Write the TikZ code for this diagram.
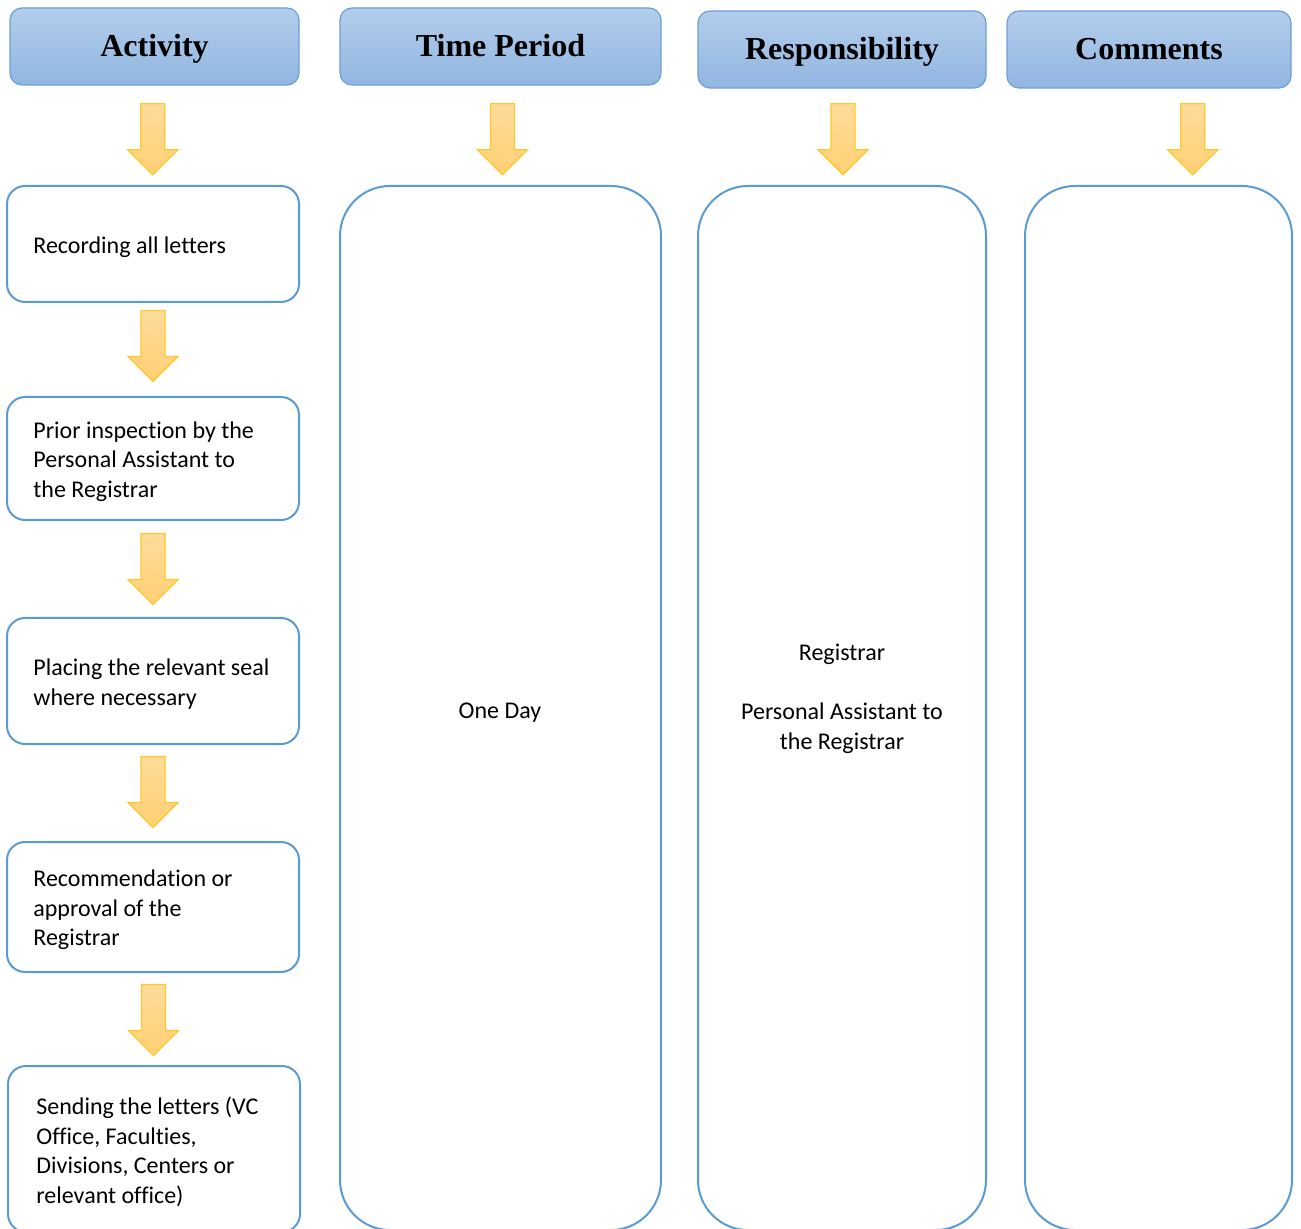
\documentclass[tikz,border=0pt]{standalone}
\usepackage{fontspec}
\setmainfont{Carlito}[Ligatures=NoCommon]
\newfontfamily\headfont{Liberation Serif}
\usetikzlibrary{calc}

\definecolor{headtop}{HTML}{B3CDEB}
\definecolor{headbot}{HTML}{91B6E1}
\definecolor{headline}{HTML}{6D9FD7}
\definecolor{boxline}{HTML}{5B9BD5}
\definecolor{arrtop}{HTML}{FFDC9B}
\definecolor{arrbot}{HTML}{FFD074}
\definecolor{arrline}{HTML}{FFC729}

\tikzset{
  header/.style = {draw=headline, line width=0.6pt, rounded corners=6pt,
    top color=headtop, bottom color=headbot, minimum height=38.5pt,
    text height=13.5pt, text depth=3pt,
    font=\headfont\fontsize{16}{19}\selectfont\bfseries},
  actbox/.style = {draw=boxline, line width=1pt, rounded corners=9pt, minimum width=146pt},
  column/.style = {draw=boxline, line width=1pt, rounded corners=25pt, minimum height=522pt},
  bodytext/.style = {inner sep=0pt, yshift=-1.5pt, font=\fontsize{12}{14.75}\selectfont},
  pics/downarrow/.style = {code={
    \draw[arrline, line width=0.6pt, top color=arrtop, bottom color=arrbot]
      (-12,-35.5) -- (12,-35.5) -- (12,10.5) -- (25,10.5) -- (0,35.5)
      -- (-25,10.5) -- (-12,10.5) -- cycle;
  }}
}

\begin{document}
\begin{tikzpicture}[x=0.5pt, y=-0.5pt]
  \clip (0,0) rectangle (1301,1229);

  % headers
  \node[header, minimum width=144.5pt] (h1) at (154.5,46.5) {Activity};
  \node[header, minimum width=160.5pt] (h2) at (500.5,46.5) {Time Period};
  \node[header, minimum width=144pt] (h3) at (842,49.5) {Responsibility};
  \node[header, minimum width=142pt] (h4) at (1149,49.5) {Comments};

  % activity steps
  \node[actbox, minimum height=58pt] (a1) at (153,244) {};
  \node[actbox, minimum height=61.5pt] (a2) at (153,458.5) {};
  \node[actbox, minimum height=63pt] (a3) at (153,681) {};
  \node[actbox, minimum height=65pt] (a4) at (153,907) {};
  \node[actbox, minimum height=83pt] (a5) at (154,1149) {};

  \node[bodytext, anchor=west, align=left] (a1t) at ([xshift=13.5pt]a1.west) {Recording all letters};
  \node[bodytext, anchor=west, align=left] (a2t) at ([xshift=13.5pt]a2.west) {Prior inspection by the\\Personal Assistant to\\the Registrar};
  \node[bodytext, anchor=west, align=left] (a3t) at ([xshift=13.5pt]a3.west) {Placing the relevant seal\\where necessary};
  \node[bodytext, anchor=west, align=left] (a4t) at ([xshift=13.5pt]a4.west) {Recommendation or\\approval of the\\Registrar};
  \node[bodytext, anchor=west, align=left] (a5t) at ([xshift=14.5pt]a5.west) {Sending the letters (VC\\Office, Faculties,\\Divisions, Centers or\\relevant office)};

  % tall columns
  \node[column, minimum width=160.5pt] (tp) at (500.5,708) {};
  \node[column, minimum width=144pt] (rs) at (842,708) {};
  \node[column, minimum width=133.5pt] (cm) at (1158.5,708) {};

  \node[bodytext] (tpt) at (500,710) {One Day};
  \node[bodytext, align=center] (rst) at (842,696) {Registrar\\[14.75pt]Personal Assistant to\\the Registrar};

  % block arrows
  \foreach \u/\v/\dx/\dy in {h1/a1/-1/4, a1/a2/0/-3.5, a2/a3/0/0, a3/a4/0/-1, a4/a5/0/1,
                             h2/tp/2/4, h3/rs/1/2.5, h4/cm/39/2.5}
    \pic at ($($(\u.south)!0.5!(\v.north)$)+(\dx,\dy)$) {downarrow};
\end{tikzpicture}
\end{document}
